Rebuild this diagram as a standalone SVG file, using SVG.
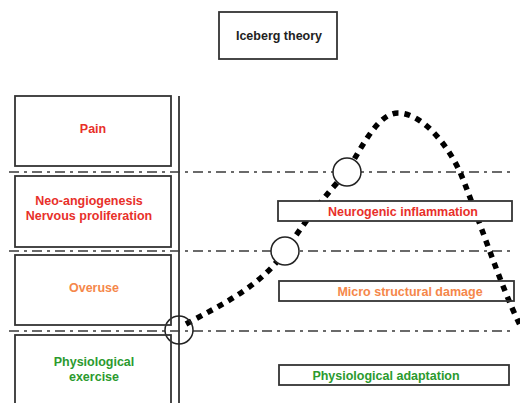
<svg xmlns="http://www.w3.org/2000/svg" width="520" height="403" viewBox="0 0 520 403">
<style>
text{font-family:"Liberation Sans",Arial,sans-serif;font-weight:bold;font-size:12.5px;text-anchor:middle}
.box{fill:#fff;stroke:#333;stroke-width:1.8}
.open{fill:none}
.lvl{fill:none;stroke:#3a3a3a;stroke-width:1.6;stroke-dasharray:10 5 3 5}
.red{fill:#e8302a}.org{fill:#f5874a}.grn{fill:#2b9a2e}.blk{fill:#222}
.circ{stroke:#222;stroke-width:1.5}
</style>
<g id="connectors">
<line x1="179" y1="96" x2="179" y2="403" stroke="#333" stroke-width="1.8"/>
<line class="lvl" x1="9" y1="172" x2="510" y2="172"/>
<line class="lvl" x1="9" y1="251" x2="510" y2="251"/>
<line class="lvl" x1="9" y1="331" x2="510" y2="331"/>
<path d="M186 324 C225 303 262 285 285 251 C305 222 325 195 347 172 C365 140 380 113 398 113 C420 113 445 140 460 172 C476 210 500 285 520 325" fill="none" stroke="#000" stroke-width="5.5" stroke-dasharray="6 6"/>
<circle class="circ" cx="179" cy="330" r="14" fill="none"/>
<circle class="circ" cx="285" cy="251" r="14" fill="#fff"/>
<circle class="circ" cx="347" cy="172" r="14" fill="#fff"/>
</g>
<g id="title"><rect class="box" x="219" y="12" width="118" height="47"/><text class="blk" x="279" y="40">Iceberg theory</text></g>
<g id="pain"><rect class="box open" x="15" y="96" width="156" height="70"/><text class="red" x="93" y="133">Pain</text></g>
<g id="neo"><rect class="box open" x="15" y="176" width="156" height="71"/><text class="red" x="89" y="205">Neo-angiogenesis</text><text class="red" x="89" y="220">Nervous proliferation</text></g>
<g id="overuse"><rect class="box open" x="15" y="255" width="156" height="70"/><text class="org" x="94" y="292">Overuse</text></g>
<g id="physio"><rect class="box open" x="15" y="335" width="156" height="70"/><text class="grn" x="94" y="366">Physiological</text><text class="grn" x="94" y="381">exercise</text></g>
<g id="neurogenic"><rect class="box" x="278" y="201" width="234" height="20"/><text class="red" x="403" y="215.5">Neurogenic inflammation</text></g>
<g id="micro"><rect class="box open" x="279" y="281" width="235" height="20"/><text class="org" x="410" y="295.5">Micro structural damage</text></g>
<g id="adaptation"><rect class="box" x="279" y="365" width="230" height="20"/><text class="grn" x="386" y="379.5">Physiological adaptation</text></g>
</svg>
